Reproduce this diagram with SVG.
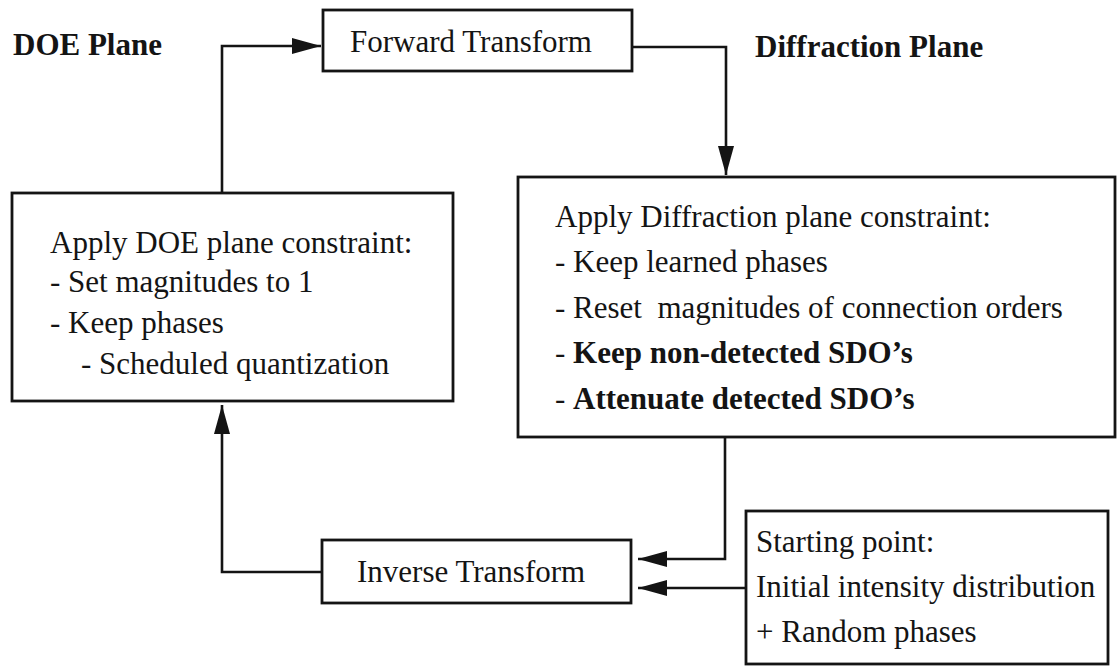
<svg xmlns="http://www.w3.org/2000/svg" width="1118" height="666" viewBox="0 0 1118 666">
  <style>
    .box { fill: #ffffff; stroke: #141414; stroke-width: 2.8; }
    .wire { fill: none; stroke: #141414; stroke-width: 2.6; }
    .t { font-family: "Liberation Serif", "Times New Roman", serif; font-size: 31px; fill: #141414; }
    .b { font-weight: bold; }
  </style>
  <defs>
    <marker id="head" markerUnits="userSpaceOnUse" markerWidth="30" markerHeight="18" refX="29" refY="8" orient="auto">
      <path d="M0,0 L29,8 L0,16 Z" fill="#141414"/>
    </marker>
  </defs>
  <rect width="1118" height="666" fill="#ffffff"/>

  <!-- plane labels -->
  <text class="t b" x="13" y="55">DOE Plane</text>
  <text class="t b" x="755" y="57">Diffraction Plane</text>

  <!-- connectors -->
  <g id="connectors">
    <polyline class="wire" points="222,193 222,46 321,46" marker-end="url(#head)"/>
    <polyline class="wire" points="632,47 726,47 726,175" marker-end="url(#head)"/>
    <polyline class="wire" points="725,437 725,559 638,559" marker-end="url(#head)"/>
    <polyline class="wire" points="746,588 638,588" marker-end="url(#head)"/>
    <polyline class="wire" points="322,572 222,572 222,405" marker-end="url(#head)"/>
  </g>

  <g id="forward">
    <rect class="box" x="323" y="10" width="309" height="61"/>
    <text class="t" x="350" y="52">Forward Transform</text>
  </g>

  <g id="doe-constraint">
    <rect class="box" x="12" y="193" width="441" height="208"/>
    <text class="t" x="50" y="253">Apply DOE plane constraint:</text>
    <text class="t" x="50" y="292">- Set magnitudes to 1</text>
    <text class="t" x="50" y="333">- Keep phases</text>
    <text class="t" x="81" y="374">- Scheduled quantization</text>
  </g>

  <g id="diffraction-constraint">
    <rect class="box" x="518" y="177" width="597" height="260"/>
    <text class="t" x="555" y="227">Apply Diffraction plane constraint:</text>
    <text class="t" x="555" y="272">- Keep learned phases</text>
    <text class="t" x="555" y="318" xml:space="preserve">- Reset  magnitudes of connection orders</text>
    <text class="t" x="555" y="363">- <tspan class="b">Keep non-detected SDO’s</tspan></text>
    <text class="t" x="555" y="409">- <tspan class="b">Attenuate detected SDO’s</tspan></text>
  </g>

  <g id="inverse">
    <rect class="box" x="322" y="540" width="309" height="63"/>
    <text class="t" x="357" y="582">Inverse Transform</text>
  </g>

  <g id="starting-point">
    <rect class="box" x="746" y="511" width="362" height="153"/>
    <text class="t" x="756" y="552">Starting point:</text>
    <text class="t" x="756" y="597">Initial intensity distribution</text>
    <text class="t" x="756" y="642">+ Random phases</text>
  </g>
</svg>
